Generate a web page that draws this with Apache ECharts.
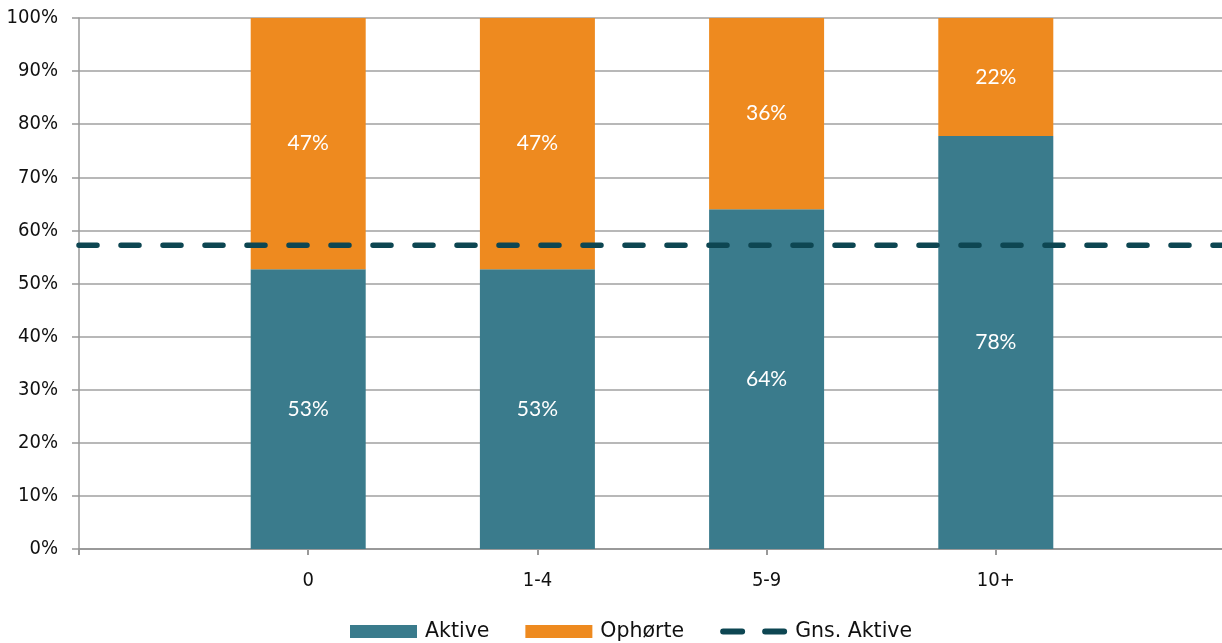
<!DOCTYPE html>
<html>
<head>
<meta charset="utf-8">
<script src="https://cdn.jsdelivr.net/npm/echarts@6/dist/echarts.min.js"></script>
<style>
html,body{margin:0;padding:0;background:#fff;}
#c{width:1222px;height:643px;}
</style>
</head>
<body>
<div id="c"></div>
<script>
const categories = ['', '0', '1-4', '5-9', '10+', ''];
const aktive = [null, 52.7, 52.7, 64.0, 77.8, null];
const ophorte = [null, 47.3, 47.3, 36.0, 22.2, null];
const gnsAktive = [57.2, 57.2, 57.2, 57.2, 57.2, 57.2];
const yTicks = [0, 10, 20, 30, 40, 50, 60, 70, 80, 90, 100];

const AXFONT = 'DejaVu Sans Condensed';
const LEGFONT = 'DejaVu Sans';
const LBLFONT = 'Lato';
const DASH_ICON = 'path://M3,0 L22,0 A3,3 0 0 1 22,6 L3,6 A3,3 0 0 1 3,0 Z M45,0 L64,0 A3,3 0 0 1 64,6 L45,6 A3,3 0 0 1 45,0 Z';

const chart = echarts.init(document.getElementById('c'), null, {renderer: 'canvas'});
const pct = p => (p.value == null ? '' : Math.round(p.value) + '%');
chart.setOption({
  animation: false,
  textStyle: {fontFamily: AXFONT},
  grid: {left: 79, width: 1146, top: 18, bottom: 94, containLabel: false, outerBoundsMode: 'none'},
  legend: {
    left: 345, bottom: -4,
    itemWidth: 67, itemHeight: 13, itemGap: 36,
    textStyle: {fontFamily: LEGFONT, fontSize: 20.5, color: '#111', padding: [0, 0, 0, 3]},
    data: [
      {name: 'Aktive', icon: 'rect'},
      {name: 'Ophørte', icon: 'rect'},
      {name: 'Gns. Aktive', icon: DASH_ICON, itemStyle: {color: '#0D4652'}}
    ]
  },
  xAxis: {
    type: 'category',
    data: categories,
    boundaryGap: false,
    axisLine: {lineStyle: {color: '#999', width: 2}},
    axisTick: {show: true, length: 6, lineStyle: {color: '#999', width: 2}},
    axisLabel: {fontFamily: AXFONT, fontSize: 20, color: '#111', margin: 22, interval: 0},
    splitLine: {show: false}
  },
  yAxis: {
    type: 'value', min: 0, max: 100, interval: 10,
    axisLine: {show: true, lineStyle: {color: '#999', width: 1.5}},
    axisTick: {show: true, length: 7, lineStyle: {color: '#999', width: 1.5}},
    axisLabel: {fontFamily: AXFONT, fontSize: 20, color: '#111', margin: 21,
      formatter: v => (yTicks.indexOf(v) >= 0 ? v + '%' : '')},
    splitLine: {show: true, lineStyle: {color: '#a0a0a0', width: 1.5}}
  },
  series: [
    {
      name: 'Aktive', type: 'bar', stack: 'a', barWidth: 115,
      data: aktive,
      itemStyle: {color: '#3A7B8C'},
      label: {show: true, position: 'inside', color: '#fff', fontFamily: LBLFONT, fontSize: 21, formatter: pct}
    },
    {
      name: 'Ophørte', type: 'bar', stack: 'a', barWidth: 115,
      data: ophorte,
      itemStyle: {color: '#EE8A1F'},
      label: {show: true, position: 'inside', color: '#fff', fontFamily: LBLFONT, fontSize: 21, formatter: pct}
    },
    {
      name: 'Gns. Aktive', type: 'line', symbol: 'none', z: 5,
      data: gnsAktive,
      itemStyle: {color: '#0D4652'},
      lineStyle: {color: '#0D4652', width: 5.5, type: [18, 24], cap: 'round'}
    }
  ]
});
</script>
</body>
</html>
